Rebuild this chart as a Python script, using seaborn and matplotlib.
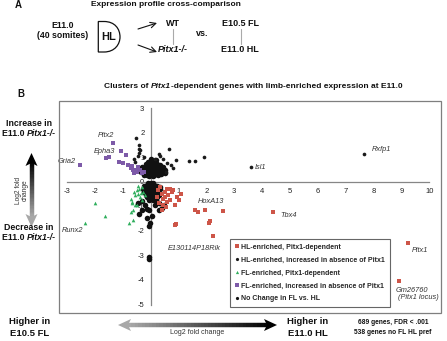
import numpy as np
import pandas as pd
import matplotlib
matplotlib.use('Agg')
import matplotlib.pyplot as plt
import seaborn as sns
from matplotlib.patches import Polygon, Rectangle, PathPatch
from matplotlib.path import Path
from matplotlib.collections import LineCollection
from matplotlib.lines import Line2D

sns.set_style('white')
plt.rcParams['font.family'] = ['Liberation Sans', 'DejaVu Sans']
plt.rcParams['axes.unicode_minus'] = False

# ---- data (log2 fold change FL vs HL on x, Pitx1-/- vs WT on y) ----
red_x = [0.28, 0.40, 0.52, 0.64, 0.70, 0.58, 0.46, 0.76, 0.94, 1.03, 0.88, 0.55, 0.31, 0.40, 0.92,
         1.61, 1.69, 1.94, 2.09, 2.12, 2.24, 2.59, 4.40, 9.23, 8.93, 0.35, 0.22, 0.60, 0.82, 0.45,
         0.68, 1.10, 0.50, 0.89]
red_y = [-0.34, -0.48, -0.41, -0.54, -0.75, -0.82, -0.68, -0.41, -0.61, -0.75, -0.95, -1.02, -0.88, -1.16, -1.71,
         -1.13, -1.22, -1.13, -1.67, -1.61, -2.20, -1.20, -1.21, -2.48, -4.04, -0.22, -0.60, -0.30, -0.35, -0.95,
         -0.28, -0.50, -0.62, -1.74]

green_x = [-2.37, -1.98, -1.62, -0.77, -0.64, -0.72, -0.56, -0.72, -0.65, -0.62, -0.50, -0.44, -0.38, -0.32,
           -0.26, -0.48, -0.41, -0.36, -0.56, -0.20, -0.68, -0.30, -0.45, -0.58]
green_y = [-1.66, -0.87, -1.38, -1.67, -1.56, -1.21, -0.94, -0.68, -0.82, -1.13, -0.95, -0.48, -0.61, -0.75,
           -0.41, -0.34, -0.31, -0.45, -0.54, -0.54, -0.85, -0.20, -0.15, -0.40]

purple_x = [-2.52, -1.36, -1.59, -1.51, -1.05, -0.87, -1.00, -0.82, -1.13, -0.98, -0.68, -0.62, -0.53, -0.44,
            -0.48, -0.38, -0.30, -0.25, -0.70, -0.58]
purple_y = [0.67, 1.60, 0.97, 1.01, 1.24, 1.10, 0.76, 0.70, 0.82, 0.78, 0.64, 0.48, 0.50, 0.59,
            0.40, 0.50, 0.35, 0.42, 0.55, 0.38]

hl_up_x = [-0.52, -0.43, -0.41, -0.38, -0.40, -0.45, 0.65, 0.91, 1.39, 1.61, 1.91, 0.35, 0.73, 0.55,
           3.59, 7.67, -0.60, -0.55, 0.45, 0.30, -0.25, 0.15, 0.60, 0.80]
hl_up_y = [1.80, 1.52, 1.36, 1.29, 1.18, 1.05, 1.35, 0.91, 0.86, 0.87, 1.02, 1.05, 0.67, 0.39,
           0.60, 1.13, 0.95, 0.80, 0.95, 1.15, 1.00, 0.95, 0.75, 0.55]

nc_x = [-0.32, -0.20, -0.08, 0.05, 0.18, 0.30, 0.42, 0.52,
        -0.35, -0.22, -0.10, 0.02, 0.14, 0.27, 0.40, 0.50,
        -0.30, -0.17, -0.05, 0.08, 0.20, 0.33, 0.45,
        -0.25, -0.12, 0.00, 0.12, 0.25, 0.38,
        -0.15, -0.02, 0.10, 0.22, 0.34,
        -0.08, 0.05, 0.17, -0.05, 0.10, 0.00, 0.20,
        -0.25, -0.12, 0.00, 0.12, 0.24, 0.35,
        -0.28, -0.15, -0.03, 0.09, 0.21, 0.33,
        -0.22, -0.10, 0.02, 0.14, 0.26,
        -0.18, -0.06, 0.06, 0.18, 0.30,
        -0.12, 0.00, 0.12, 0.22,
        -0.05, 0.08, 0.18, -0.10, 0.02, 0.10,
        -0.19, -0.07, 0.05, -0.13, -0.01, -0.07, -0.40, 0.29, 0.41, 0.49, -0.04, -0.04,
        -0.44, -0.32, -0.14, 0.15, -0.30, 0.30]
nc_y = [0.50, 0.52, 0.48, 0.51, 0.49, 0.53, 0.47, 0.50,
        0.40, 0.38, 0.42, 0.39, 0.41, 0.37, 0.40, 0.38,
        0.62, 0.60, 0.63, 0.61, 0.59, 0.62, 0.60,
        0.30, 0.29, 0.31, 0.28, 0.30, 0.31,
        0.72, 0.74, 0.71, 0.73, 0.70,
        0.82, 0.84, 0.81, 0.22, 0.23, 0.92, 0.90,
        -0.15, -0.12, -0.10, -0.13, -0.16, -0.20,
        -0.28, -0.26, -0.24, -0.27, -0.25, -0.30,
        -0.40, -0.38, -0.41, -0.39, -0.42,
        -0.52, -0.50, -0.53, -0.51, -0.55,
        -0.63, -0.61, -0.64, -0.62,
        -0.74, -0.72, -0.75, -0.05, -0.04, -0.06,
        -0.93, -1.13, -1.40, -1.47, -1.67, -1.81, -1.31, -1.13, -1.06, -0.93, -3.05, -3.15,
        -0.88, -1.16, -1.09, -0.95, -0.80, -0.85]

groups = ['No Change in FL vs. HL',
          'HL-enriched, increased in absence of Pitx1',
          'FL-enriched, increased in absence of Pitx1',
          'FL-enriched, Pitx1-dependent',
          'HL-enriched, Pitx1-dependent']
legend_order = [4, 1, 3, 2, 0]
colors = ['#111111', '#1a1a1a', '#7d5aa8', '#2fae5c', '#cd5548']
markers = ['o', 'o', 's', '^', 's']
sizes = [16, 7, 6, 7, 6]

gene_labels = ['Pitx2', 'Epha3', 'Gria2', 'Runx2', 'Isl1', 'Rxfp1', 'HoxA13', 'Tbx4',
               'E130114P18Rik', 'Pitx1', 'Gm26760', '(Pitx1 locus)']
gene_lx = [-1.59, -1.65, -3.0, -2.79, 3.74, 7.94, 2.18, 4.94, 1.58, 9.68, 9.38, 9.62]
gene_ly = [1.88, 1.24, 0.82, -1.99, 0.58, 1.33, -0.78, -1.37, -2.71, -2.78, -4.41, -4.72]
gene_ha = ['center', 'center', 'center', 'center', 'left', 'left', 'center', 'center',
           'center', 'center', 'center', 'center']

series = [(nc_x, nc_y), (hl_up_x, hl_up_y), (purple_x, purple_y), (green_x, green_y), (red_x, red_y)]
df = pd.concat([pd.DataFrame({'x': xs, 'y': ys, 'group': g}) for g, (xs, ys) in zip(groups, series)])

W, H = 447, 341
fig = plt.figure(figsize=(W / 100, H / 100), dpi=100)
ax = fig.add_axes([67 / W, 1 - 304.5 / H, 362.3 / W, 196.2 / H])
ax.set_facecolor('none')

for g, c, m, s in zip(groups, colors, markers, sizes):
    sns.scatterplot(data=df[df['group'] == g], x='x', y='y', color=c, marker=m,
                    s=s, linewidth=0, ax=ax, legend=False, zorder=3)

ax.set_xlim(-3, 10)
ax.set_ylim(-5, 3)
for side in ['top', 'right']:
    ax.spines[side].set_visible(False)
ax.spines['left'].set_position(('data', 0))
ax.spines['bottom'].set_position(('data', 0))
for side in ['left', 'bottom']:
    ax.spines[side].set_color('#868686')
    ax.spines[side].set_linewidth(0.9)
ax.set_xticks(range(-3, 11))
ax.set_xticklabels(['' if v == 0 else str(v) for v in range(-3, 11)])
ax.set_yticks(range(-5, 4))
ax.tick_params(labelsize=5.5, length=2.5, width=0.7, color='#868686', pad=2, labelcolor='#222222')
ax.set_xlabel('')
ax.set_ylabel('')

for lab, lx, ly, ha in zip(gene_labels, gene_lx, gene_ly, gene_ha):
    ax.text(lx, ly, lab, fontsize=5.3, style='italic', ha=ha, va='center', color='#333333')

handles = [Line2D([], [], marker=markers[i], color=colors[i], linestyle='', markersize=2.3,
                  markeredgewidth=0, label=groups[i]) for i in legend_order]
leg = ax.legend(handles=handles, loc='upper left', bbox_to_anchor=(230 / W, 1 - 239 / H),
                bbox_transform=fig.transFigure, frameon=True, fancybox=False, edgecolor='#404040',
                prop={'weight': 'bold', 'size': 5}, handlelength=0.5, handletextpad=0.4,
                labelspacing=0.85, borderpad=0.7, borderaxespad=0)
leg.get_frame().set_linewidth(0.8)

# ---- overlay in pixel coordinates for the annotations ----
ov = fig.add_axes([0, 0, 1, 1])
ov.set_xlim(0, W)
ov.set_ylim(H, 0)
ov.axis('off')
ov.patch.set_alpha(0)

renderer = fig.canvas.get_renderer()


def rich(x, y, parts, size, ha='center'):
    objs = [ov.text(0, y, s, fontsize=size, fontweight='bold', fontstyle=st, va='center', ha='left',
                    color='#111111') for s, st in parts]
    widths = [t.get_window_extent(renderer).width for t in objs]
    x0 = x - sum(widths) / 2 if ha == 'center' else x
    for t, w in zip(objs, widths):
        t.set_x(x0)
        x0 += w


def btext(x, y, s, size, **kw):
    ov.text(x, y, s, fontsize=size, fontweight='bold', ha=kw.pop('ha', 'center'), va='center',
            color='#111111', **kw)


def grad_arrow(p_light, p_dark, light='#a8a8a8', dark='#000000', head=13, hw=6, lw=3.2):
    p0, p1 = np.array(p_light, float), np.array(p_dark, float)
    d = (p1 - p0) / np.linalg.norm(p1 - p0)
    n = np.array([-d[1], d[0]])
    a, b = p0 + d * (head - 3), p1 - d * (head - 3)
    t = np.linspace(0, 1, 41)
    pts = a + np.outer(t, b - a)
    segs = np.stack([pts[:-1], pts[1:]], axis=1)
    cl = np.array(matplotlib.colors.to_rgb(light))
    cd = np.array(matplotlib.colors.to_rgb(dark))
    cols = [cl + (cd - cl) * v for v in t[:-1]]
    ov.add_collection(LineCollection(segs, colors=cols, linewidths=lw, capstyle='butt'))
    for tip, dd, c in [(p0, -d, light), (p1, d, dark)]:
        base = tip - dd * head
        ov.add_patch(Polygon([tip, base + n * hw, base + dd * 3, base - n * hw], closed=True,
                             facecolor=c, edgecolor='none'))


# panel A
btext(18, 5, 'A', 7)
btext(166, 5, 'Expression profile cross-comparison', 6)
btext(63, 25, 'E11.0', 6.3)
btext(63, 36, '(40 somites)', 6.3)
verts = [(104, 21.5), (98.3, 21.5), (98.3, 52), (104, 52), (115, 52), (120, 44), (120, 37),
         (120, 29), (115, 21.5), (104, 21.5)]
codes = [Path.MOVETO, Path.LINETO, Path.LINETO, Path.LINETO, Path.CURVE4, Path.CURVE4, Path.CURVE4,
         Path.CURVE4, Path.CURVE4, Path.CURVE4]
ov.add_patch(PathPatch(Path(verts, codes), facecolor='white', edgecolor='#111111', lw=0.9))
btext(109, 37, 'HL', 8)
for y0, y1 in [(29, 23), (45, 52)]:
    ov.annotate('', xy=(157, y1), xytext=(138, y0),
                arrowprops=dict(arrowstyle='->', color='#111111', lw=0.8, shrinkA=0, shrinkB=0))
btext(173, 23, 'WT', 6.5)
rich(173, 50, [('Pitx1-/-', 'italic')], 6.5)
ov.plot([173, 173], [29, 44], color='#aaaaaa', lw=0.8)
btext(202, 34, 'vs.', 6.5)
btext(240, 24, 'E10.5 FL', 6.5)
btext(240, 50, 'E11.0 HL', 6.5)
ov.plot([241, 241], [29, 44], color='#aaaaaa', lw=0.8)

# panel B
btext(21, 94, 'B', 7)
rich(253, 87, [('Clusters of ', 'normal'), ('Pitx1', 'italic'),
               ('-dependent genes with limb-enriched expression at E11.0', 'normal')], 6)
ov.add_patch(Rectangle((58.5, 100.5), 382.5, 212, fill=False, edgecolor='#7f7f7f', lw=0.9))

btext(29, 123, 'Increase in', 6.3)
rich(29, 133, [('E11.0 ', 'normal'), ('Pitx1-/-', 'italic')], 6.3)
btext(29, 228, 'Decrease in', 6.3)
rich(29, 238, [('E11.0 ', 'normal'), ('Pitx1-/-', 'italic')], 6.3)
grad_arrow((31.5, 227), (31.5, 153))
ov.text(22, 190, 'Log2 fold\nchange', fontsize=4.8, rotation=90, ha='center', va='center',
        color='#333333', linespacing=1.0)

btext(30, 321, 'Higher in', 6.8)
btext(30, 333, 'E10.5 FL', 6.8)
grad_arrow((118, 325), (277, 325))
ov.text(197, 333, 'Log2 fold change', fontsize=5, ha='center', va='center', color='#333333')
btext(308, 322, 'Higher in', 6.8)
btext(308, 334, 'E11.0 HL', 6.8)
btext(393, 323, '689 genes, FDR < .001', 4.8)
btext(393, 333, '538 genes no FL HL pref', 4.8)

fig.savefig('out.png', dpi=100)
